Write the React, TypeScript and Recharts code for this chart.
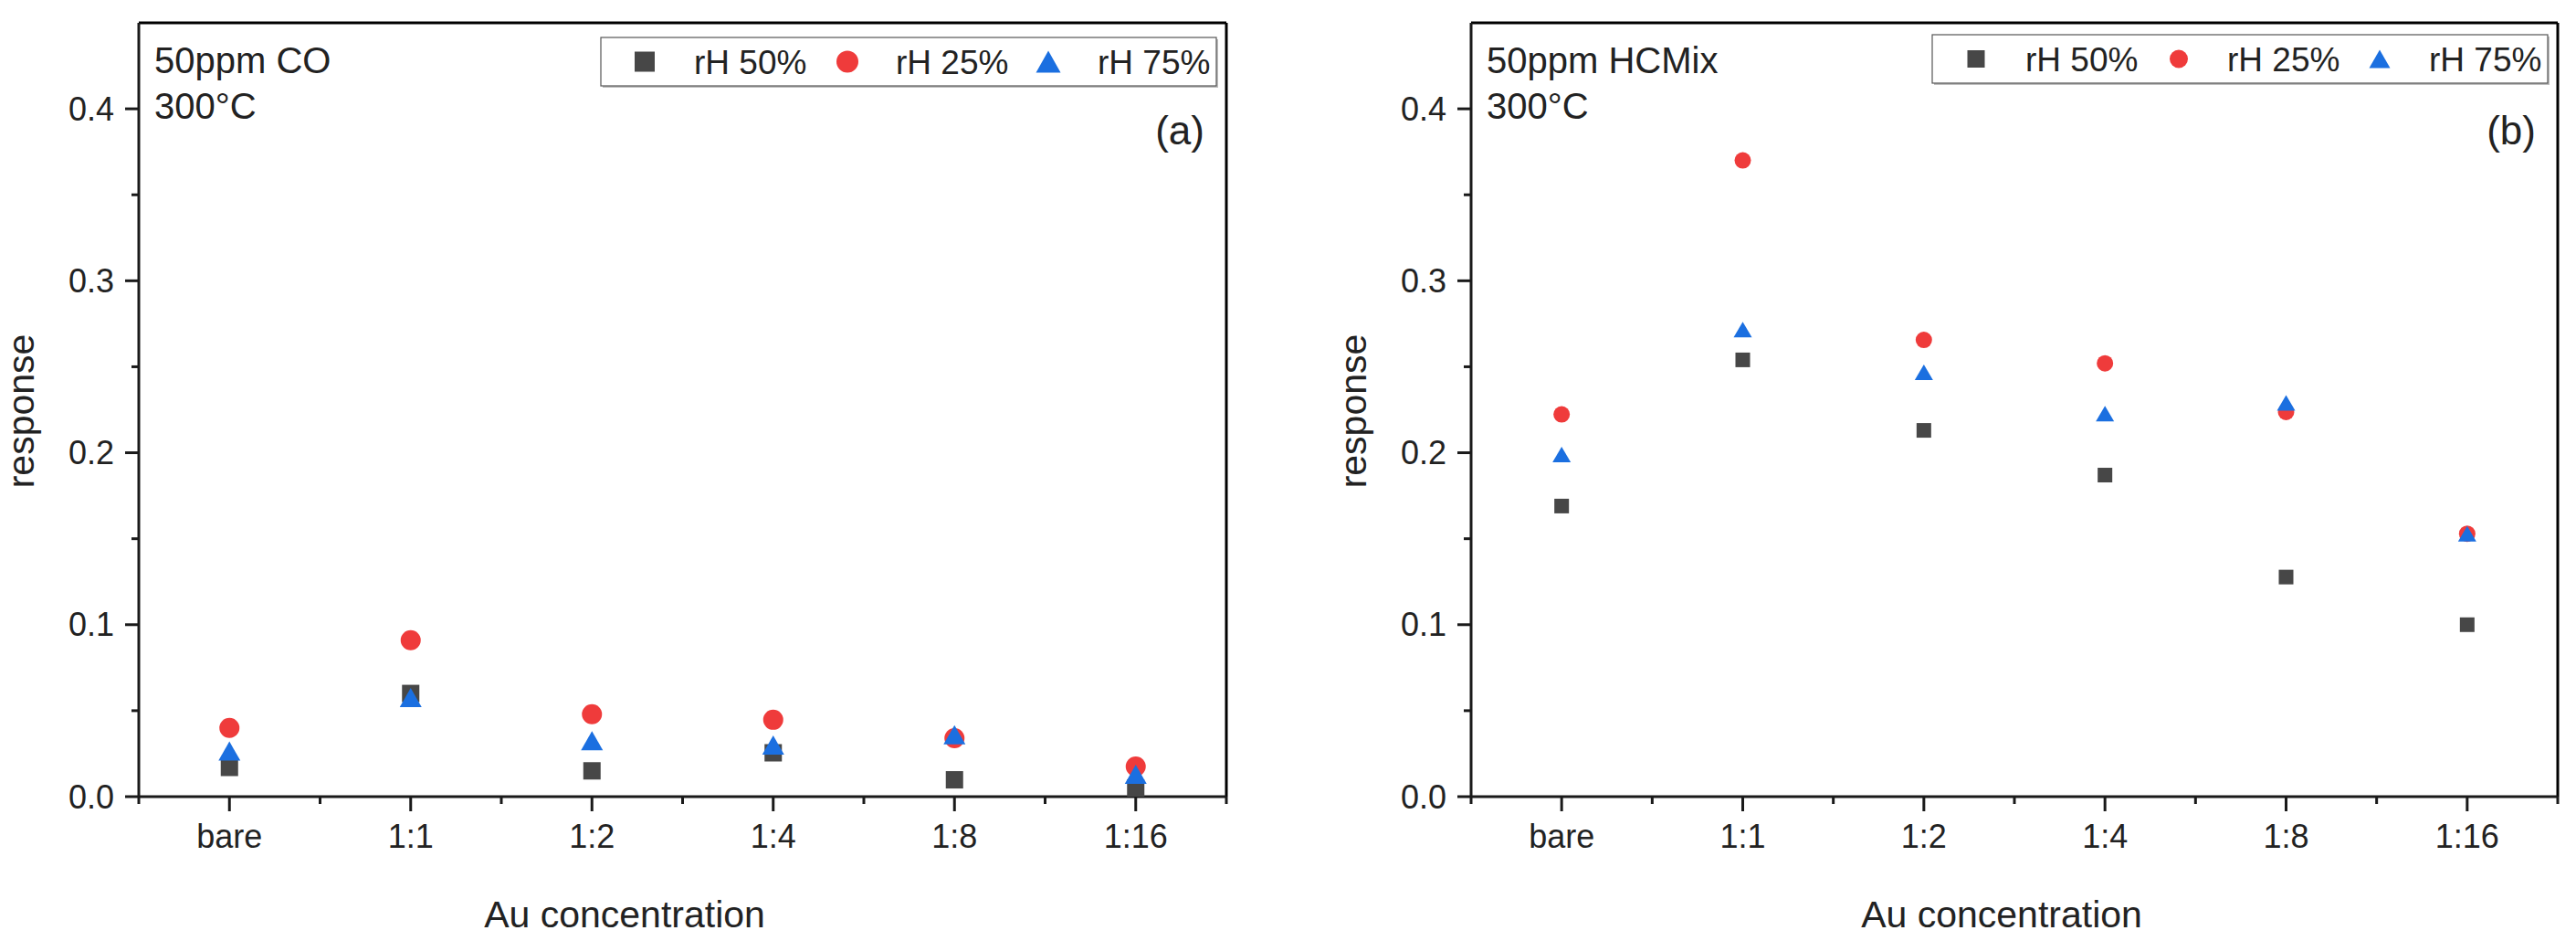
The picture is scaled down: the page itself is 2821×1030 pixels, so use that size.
import React from "react";
import { ScatterChart, Scatter, XAxis, YAxis, ReferenceLine } from "recharts";

// Au loading categories on the x axis
const categories = ["bare", "1:1", "1:2", "1:4", "1:8", "1:16"];

// (a) 50ppm CO
const coRh50 = [0.017, 0.06, 0.015, 0.0255, 0.0098, 0.005];
const coRh25 = [0.04, 0.091, 0.048, 0.0447, 0.034, 0.0175];
const coRh75 = [0.0265, 0.0576, 0.0325, 0.03, 0.036, 0.013];

// (b) 50ppm HCMix
const hcRh50 = [0.169, 0.254, 0.213, 0.187, 0.1277, 0.1];
const hcRh25 = [0.2223, 0.37, 0.2656, 0.252, 0.2237, 0.1529];
const hcRh75 = [0.199, 0.2716, 0.2468, 0.2227, 0.229, 0.1529];

const yMajor = [0, 0.1, 0.2, 0.3, 0.4];
const yMinor = [0.05, 0.15, 0.25, 0.35];
const xMajor = [1, 2, 3, 4, 5, 6];
const xMinor = [0.5, 1.5, 2.5, 3.5, 4.5, 5.5, 6.5];

const FONT = '"Liberation Sans", Arial, Helvetica, sans-serif';
const TOP = 25;
const BOTTOM = 872;
const H = 1030;

const C_SQ = "#474747";
const C_CI = "#ef3b3b";
const C_TR = "#1b6fe0";

const toPoints = (vals: number[]) => vals.map((v, i) => ({ x: i + 1, y: v }));

const squareShape = (s: number) => (p: any) => (
  <rect x={p.cx - s / 2} y={p.cy - s / 2} width={s} height={s} fill={C_SQ} />
);
const circleShape = (r: number) => (p: any) => <circle cx={p.cx} cy={p.cy} r={r} fill={C_CI} />;
const triangleShape = (w: number, h: number) => (p: any) => (
  <polygon
    points={`${p.cx},${p.cy - h / 2} ${p.cx + w / 2},${p.cy + h / 2} ${p.cx - w / 2},${p.cy + h / 2}`}
    fill={C_TR}
  />
);

const XTick = (props: any) => {
  const { x, payload } = props;
  const v = payload.value;
  const major = Number.isInteger(v);
  return (
    <g>
      <line x1={x} x2={x} y1={BOTTOM} y2={BOTTOM + (major ? 16 : 8)} stroke="#1a1a1a" strokeWidth={3} />
      {major && (
        <text x={x} y={928} textAnchor="middle" fontSize={36} fontFamily={FONT} fill="#222">
          {categories[v - 1]}
        </text>
      )}
    </g>
  );
};

const makeYTick = (plotLeft: number) => (props: any) => {
  const { y, payload } = props;
  const v = payload.value;
  const major = Math.abs(v * 10 - Math.round(v * 10)) < 1e-6;
  return (
    <g>
      <line x1={plotLeft - (major ? 15 : 8)} x2={plotLeft} y1={y} y2={y} stroke="#1a1a1a" strokeWidth={3} />
      {major && (
        <text
          x={plotLeft - 27}
          y={y}
          textAnchor="end"
          dominantBaseline="central"
          fontSize={36}
          fontFamily={FONT}
          fill="#222"
        >
          {v.toFixed(1)}
        </text>
      )}
    </g>
  );
};

interface PanelProps {
  left: number;
  width: number;
  plotLeft: number;
  plotRight: number;
  gas: string;
  tag: string;
  rh50: number[];
  rh25: number[];
  rh75: number[];
  xTitleX: number;
  legendTop: number;
  mk: { sq: number; ci: number; trW: number; trH: number };
}

const Legend = ({ x, y, mk }: { x: number; y: number; mk: PanelProps["mk"] }) => {
  const w = 674;
  const h = 53;
  const cy = y + h / 2;
  const ty = cy + 13;
  return (
    <g>
      <rect x={x + 2} y={y + 2} width={w} height={h} fill="#bdbdbd" />
      <rect x={x} y={y} width={w} height={h} fill="#fff" stroke="#555" strokeWidth={1.2} />
      <rect x={x + 48 - mk.sq / 2} y={cy - mk.sq / 2} width={mk.sq} height={mk.sq} fill={C_SQ} />
      <text x={x + 102} y={ty} fontSize={37} fontFamily={FONT} fill="#222">
        rH 50%
      </text>
      <circle cx={x + 270} cy={cy} r={mk.ci} fill={C_CI} />
      <text x={x + 323} y={ty} fontSize={37} fontFamily={FONT} fill="#222">
        rH 25%
      </text>
      <polygon
        points={`${x + 490},${cy - mk.trH / 2} ${x + 490 + mk.trW / 2},${cy + mk.trH / 2} ${x + 490 - mk.trW / 2},${cy + mk.trH / 2}`}
        fill={C_TR}
      />
      <text x={x + 544} y={ty} fontSize={37} fontFamily={FONT} fill="#222">
        rH 75%
      </text>
    </g>
  );
};

const Panel = (p: PanelProps) => {
  const yAxisW = 60;
  const xAxisH = 60;
  const margin = {
    top: TOP,
    right: p.width - p.plotRight,
    bottom: H - BOTTOM - xAxisH,
    left: p.plotLeft - yAxisW,
  };
  return (
    <div style={{ position: "absolute", left: p.left, top: 0, width: p.width, height: H }}>
      <ScatterChart width={p.width} height={H} margin={margin}>
        <XAxis
          type="number"
          dataKey="x"
          domain={[0.5, 6.5]}
          ticks={[...xMinor, ...xMajor].sort((a, b) => a - b)}
          interval={0}
          height={xAxisH}
          axisLine={{ stroke: "#1a1a1a", strokeWidth: 3 }}
          tickLine={false}
          tick={<XTick />}
          allowDataOverflow
        />
        <YAxis
          type="number"
          dataKey="y"
          domain={[0, 0.45]}
          ticks={[...yMajor, ...yMinor].sort((a, b) => a - b)}
          interval={0}
          width={yAxisW}
          axisLine={{ stroke: "#1a1a1a", strokeWidth: 3 }}
          tickLine={false}
          tick={makeYTick(p.plotLeft)}
          allowDataOverflow
        />
        {/* closing top and right edges of the frame */}
        <ReferenceLine y={0.45} stroke="#000" strokeWidth={3} ifOverflow="extendDomain" />
        <ReferenceLine x={6.5} stroke="#000" strokeWidth={3} ifOverflow="extendDomain" />
        <Scatter
          name="rH 50%"
          data={toPoints(p.rh50)}
          shape={squareShape(p.mk.sq - 3)}
          isAnimationActive={false}
        />
        <Scatter
          name="rH 25%"
          data={toPoints(p.rh25)}
          shape={circleShape(p.mk.ci - 1)}
          isAnimationActive={false}
        />
        <Scatter
          name="rH 75%"
          data={toPoints(p.rh75)}
          shape={triangleShape(p.mk.trW - 3, p.mk.trH - 3)}
          isAnimationActive={false}
        />
      </ScatterChart>
      <svg
        width={p.width}
        height={H}
        style={{ position: "absolute", left: 0, top: 0, pointerEvents: "none" }}
      >
        <text x={p.plotLeft + 17} y={80} fontSize={40} fontFamily={FONT} fill="#222">
          {p.gas}
        </text>
        <text x={p.plotLeft + 17} y={130} fontSize={40} fontFamily={FONT} fill="#222">
          300°C
        </text>
        <text x={p.plotRight - 24} y={158} textAnchor="end" fontSize={44} fontFamily={FONT} fill="#222">
          {p.tag}
        </text>
        <Legend x={p.plotRight - 11 - 674} y={p.legendTop} mk={p.mk} />
        <text
          x={p.plotLeft - 115}
          y={450}
          transform={`rotate(-90, ${p.plotLeft - 115}, 450)`}
          textAnchor="middle"
          fontSize={41}
          fontFamily={FONT}
          fill="#222"
        >
          response
        </text>
        <text x={p.xTitleX} y={1015} textAnchor="middle" fontSize={41} fontFamily={FONT} fill="#222">
          Au concentration
        </text>
      </svg>
    </div>
  );
};

export default function App() {
  return (
    <div style={{ position: "absolute", left: 0, top: 0, width: 2821, height: H, background: "#fff" }}>
      <Panel
        left={0}
        width={1410}
        plotLeft={152}
        plotRight={1343}
        gas="50ppm CO"
        tag="(a)"
        rh50={coRh50}
        rh25={coRh25}
        rh75={coRh75}
        xTitleX={684}
        legendTop={41}
        mk={{ sq: 22, ci: 12, trW: 27, trH: 24 }}
      />
      <Panel
        left={1410}
        width={1411}
        plotLeft={201}
        plotRight={1391}
        gas="50ppm HCMix"
        tag="(b)"
        rh50={hcRh50}
        rh25={hcRh25}
        rh75={hcRh75}
        xTitleX={782}
        legendTop={38}
        mk={{ sq: 19, ci: 10, trW: 23, trH: 20 }}
      />
    </div>
  );
}
